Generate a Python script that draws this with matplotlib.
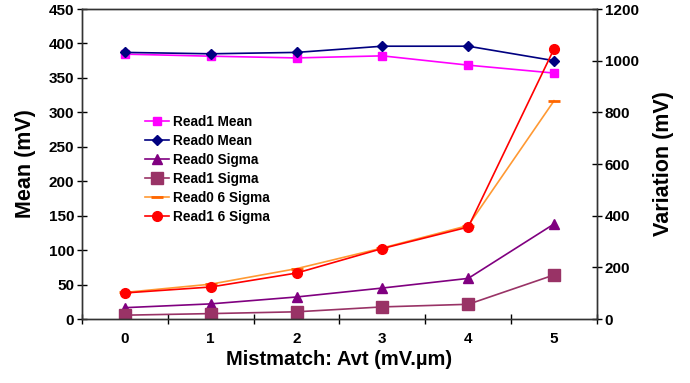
import numpy as np
import matplotlib.pyplot as plt

plt.rcParams["font.family"] = ["Liberation Sans", "DejaVu Sans"]
plt.rcParams["font.weight"] = "bold"

mismatch = ["0", "1", "2", "3", "4", "5"]

# left axis (Mean, mV)
read1_mean = [384.5, 381.5, 379, 382, 368.5, 357]
read0_mean = [387, 385, 387, 396, 396, 375]
read0_sigma = [16.5, 22, 32, 45, 59, 138]
read1_sigma = [5.6, 7.9, 10.5, 17.6, 21.4, 64]

# right axis (Variation, mV)
read0_6sigma = [103, 135, 195, 275, 362, 845]
read1_6sigma = [101, 124, 178, 273, 356, 1046]

x = np.arange(len(mismatch))

fig = plt.figure(figsize=(6.9, 3.83), dpi=100)
ax = fig.add_axes([0.1188, 0.167, 0.7464, 0.8095])
ax2 = ax.twinx()

h1, = ax.plot(x, read1_mean, color="#FF00FF", marker="s", ms=6, lw=1.2, label="Read1 Mean")
h2, = ax.plot(x, read0_mean, color="#000080", marker="D", ms=5, lw=1.2, label="Read0 Mean")
h3, = ax.plot(x, read0_sigma, color="#800080", marker="^", ms=7, lw=1.2, label="Read0 Sigma")
h4, = ax.plot(x, read1_sigma, color="#993366", marker="s", ms=9, lw=1.2, label="Read1 Sigma")
h5, = ax2.plot(x, read0_6sigma, color="#FF9933", marker="_", ms=8, mew=2,
               mec="#FF6600", lw=1.2, label="Read0 6 Sigma")
h6, = ax2.plot(x, read1_6sigma, color="#FF0000", marker="o", ms=7, lw=1.2, label="Read1 6 Sigma")

ax.set_xlim(-0.5, 5.5)
ax.set_ylim(0, 450)
ax2.set_ylim(0, 1200)
ax.set_yticks(np.arange(0, 451, 50))
ax2.set_yticks(np.arange(0, 1201, 200))

ax.set_xticks(np.arange(-0.5, 5.6, 1))
ax.set_xticklabels([])
ax.set_xticks(x, minor=True)
ax.set_xticklabels(mismatch, minor=True)
ax.tick_params(axis="x", which="minor", length=0, pad=9, labelsize=11)
ax.tick_params(axis="x", which="major", direction="inout", length=7, width=1)
ax.tick_params(axis="y", direction="inout", length=7, width=1, labelsize=11, pad=2)
ax2.tick_params(axis="y", direction="inout", length=7, width=1, labelsize=11, pad=2)

for a in (ax, ax2):
    for s in a.spines.values():
        s.set_color("#333333")
        s.set_linewidth(1)

ax.set_xlabel("Mistmatch: Avt (mV.\u00b5m)", fontsize=14.5, fontweight="bold", labelpad=3)
ax.set_ylabel("Mean (mV)", fontsize=15.5, fontweight="bold", labelpad=9)
ax2.set_ylabel("Variation (mV)", fontsize=15.5, fontweight="bold", labelpad=10)

ax.legend(handles=[h1, h2, h3, h4, h5, h6], loc="upper left",
          bbox_to_anchor=(0.11, 0.68), frameon=False, fontsize=9.8,
          handlelength=1.7, handletextpad=0.3, labelspacing=0.36, borderpad=0)

fig.savefig("out.png", dpi=100)
